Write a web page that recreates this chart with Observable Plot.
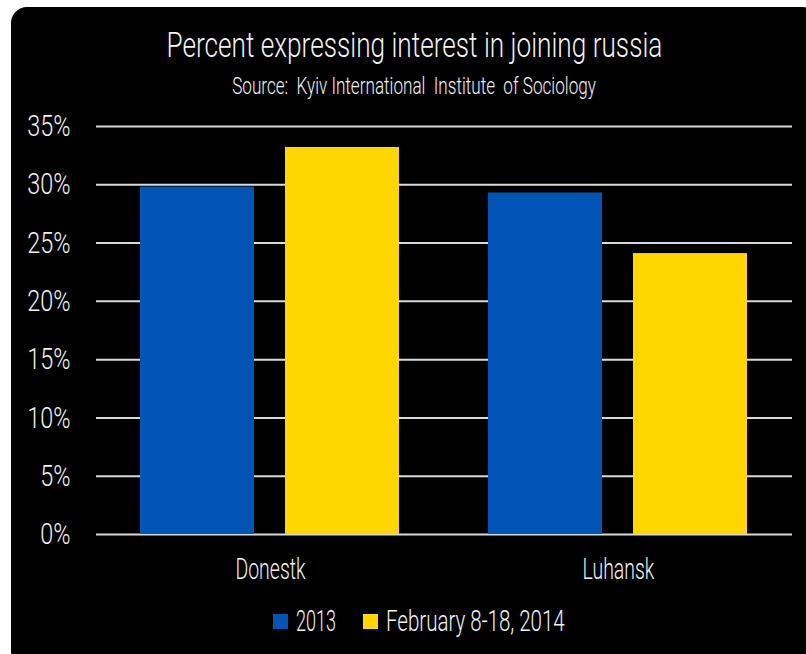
<!DOCTYPE html>
<html>
<head>
<meta charset="utf-8">
<script src="https://cdn.jsdelivr.net/npm/d3@7"></script>
<script src="https://cdn.jsdelivr.net/npm/@observablehq/plot@0.6"></script>
<style>
  html, body { margin: 0; padding: 0; background: #ffffff; overflow: hidden; width: 806px; height: 654px; }
  #card { position: absolute; left: 11px; top: 7px; width: 807px; height: 660px; background: #000; border-radius: 16px; font-family: Roboto, sans-serif; font-weight: 300; color: #f2f2f2; }
  .t { position: absolute; left: 0; width: 100%; text-align: center; line-height: 1; white-space: pre; }
  .sq { display: inline-block; }
  .c { display: inline-block; white-space: pre; }
  #chart { position: absolute; left: 0; top: 93px; }
  #chart svg text { font-weight: 300; }
  #legend { position: absolute; left: 262px; top: 600px; display: flex; align-items: center; line-height: 1; font-size: 29.5px; }
</style>
</head>
<body>
<div id="card">
  <div class="t" id="title" style="top:20.5px;font-size:35px;"><span class="c" id="titleText"></span></div>
  <div class="t" id="subtitle" style="top:67px;font-size:24px;"><span class="c" id="subText"></span></div>
  <div id="chart"></div>
  <div id="legend"></div>
</div>
<script>
const titleText = "Percent expressing interest in joining russia";
const subtitleText = "Source:  Kyiv International  Institute  of Sociology";
const regions = ["Donestk", "Luhansk"];
const series = ["2013", "February 8-18, 2014"];
const values2013 = [0.298, 0.293];
const values2014 = [0.332, 0.241];
const colors = ["#0055b7", "#ffd700"];
const yTicks = [0, 0.05, 0.10, 0.15, 0.20, 0.25, 0.30, 0.35];

const table = [];
regions.forEach((r, i) => {
  table.push({region: r, series: series[0], value: values2013[i]});
  table.push({region: r, series: series[1], value: values2014[i]});
});

function condense(el, s, origin) {
  el.style.transformOrigin = origin || "center";
  el.style.transform = `scaleX(${s})`;
}

const tt = document.getElementById("titleText");
tt.textContent = titleText;
condense(tt, 0.748);
const st = document.getElementById("subText");
st.textContent = subtitleText;
condense(st, 0.713);

const plot = Plot.plot({
  width: 807,
  height: 500,
  marginLeft: 84,
  marginRight: 26,
  marginTop: 26,
  marginBottom: 66,
  style: {background: "transparent", color: "#f0f0f0", fontFamily: "Roboto, sans-serif", fontSize: "30px", overflow: "visible"},
  fx: {domain: regions, paddingInner: 0, paddingOuter: 0, label: null, axis: null},
  x: {domain: series, paddingInner: 0.2123, paddingOuter: 0.3014, axis: null},
  y: {domain: [0, 0.35], label: null, axis: null},
  color: {domain: series, range: colors},
  marks: [
    Plot.gridY(yTicks, {stroke: "#d9d9d9", strokeOpacity: 1, strokeWidth: 2}),
    Plot.barY(table, {fx: "region", x: "series", y: "value", fill: "series"}),
    Plot.axisY(yTicks, {tickSize: 0, tickPadding: 26, tickFormat: d3.format(".0%"), fontSize: 30, label: null}),
    Plot.axisFx({anchor: "bottom", tickSize: 0, tickPadding: 24, fontSize: 29.5, label: null})
  ]
});
document.getElementById("chart").appendChild(plot);

function squeezeSvgText(t, s) {
  const tr = t.getAttribute("transform");
  if (tr) {
    t.setAttribute("transform", tr + ` scale(${s},1)`);
  } else {
    const x = +(t.getAttribute("x") || 0), y = +(t.getAttribute("y") || 0);
    t.setAttribute("x", 0);
    t.setAttribute("y", 0);
    t.setAttribute("transform", `translate(${x},${y}) scale(${s},1)`);
  }
}
plot.querySelectorAll('[aria-label="y-axis tick label"] text').forEach(t => squeezeSvgText(t, 0.78));
plot.querySelectorAll('[aria-label="fx-axis tick label"] text').forEach(t => squeezeSvgText(t, 0.66));

const legend = document.getElementById("legend");
const legendScale = [0.61, 0.695];
series.forEach((s, i) => {
  const sq = document.createElement("span");
  sq.className = "sq";
  sq.style.width = "15px";
  sq.style.height = "15px";
  sq.style.background = colors[i];
  sq.style.marginRight = "8px";
  legend.appendChild(sq);
  const lab = document.createElement("span");
  lab.className = "c";
  lab.textContent = s;
  legend.appendChild(lab);
  const w = lab.getBoundingClientRect().width;
  lab.style.transformOrigin = "left center";
  lab.style.transform = `scaleX(${legendScale[i]})`;
  lab.style.marginRight = (-(1 - legendScale[i]) * w + (i === 0 ? 27 : 0)) + "px";
});
</script>
</body>
</html>
